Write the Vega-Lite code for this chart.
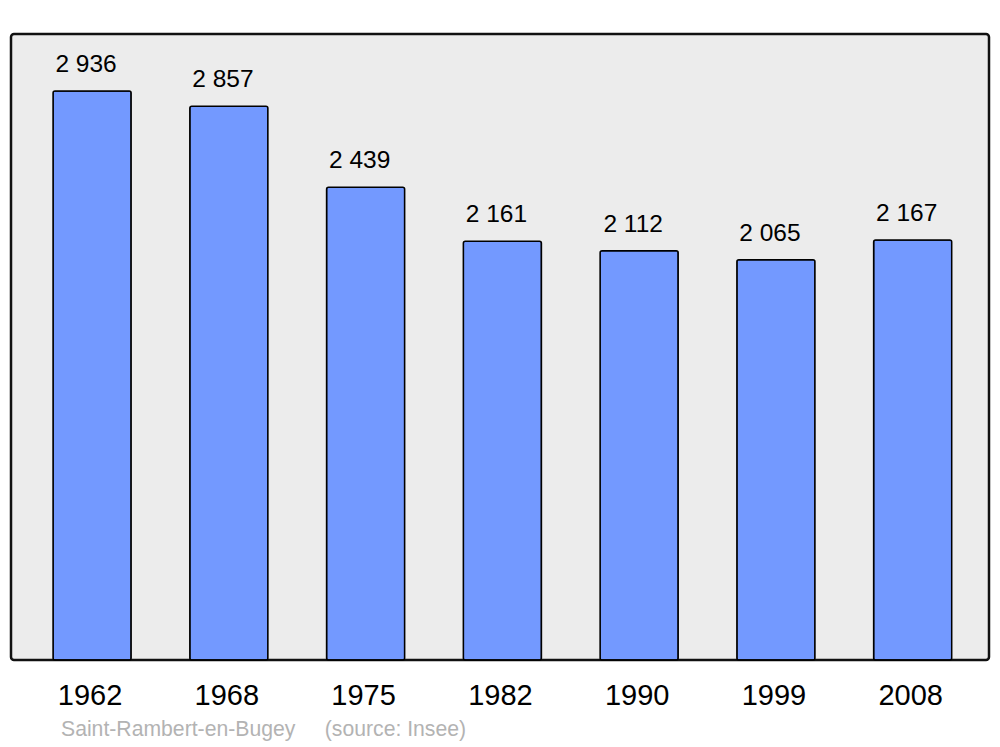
{
  "$schema": "https://vega.github.io/schema/vega-lite/v6.json",
  "width": 978,
  "height": 626,
  "autosize": {"type": "none"},
  "padding": {"left": 11, "top": 34, "right": 11, "bottom": 87},
  "background": "white",
  "config": {
    "view": {"fill": "#ececec", "stroke": "#111111", "strokeWidth": 2.5, "cornerRadius": 3},
    "font": "Liberation Sans"
  },
  "title": {
    "text": "Saint-Rambert-en-Bugey\u00a0\u00a0\u00a0\u00a0 (source: Insee)",
    "orient": "bottom",
    "anchor": "start",
    "dx": 50,
    "fontSize": 21.2,
    "fontWeight": "normal",
    "color": "#b3b3b3",
    "font": "Liberation Sans",
    "offset": 26,
    "baseline": "alphabetic"
  },
  "data": {
    "values": [
      {"year": "1962", "population": 2936, "label": "2 936"},
      {"year": "1968", "population": 2857, "label": "2 857"},
      {"year": "1975", "population": 2439, "label": "2 439"},
      {"year": "1982", "population": 2161, "label": "2 161"},
      {"year": "1990", "population": 2112, "label": "2 112"},
      {"year": "1999", "population": 2065, "label": "2 065"},
      {"year": "2008", "population": 2167, "label": "2 167"}
    ]
  },
  "encoding": {
    "x": {
      "field": "year",
      "type": "ordinal",
      "scale": {"paddingInner": 0.429, "paddingOuter": 0.29, "align": 0.53},
      "axis": {
        "title": null,
        "domain": false,
        "ticks": false,
        "tickSize": 0,
        "labelFontSize": 29,
        "labelColor": "#000000",
        "labelBaseline": "alphabetic",
        "labelPadding": 44,
        "labelOffset": -2,
        "labelAngle": 0,
        "labelFont": "Liberation Sans"
      }
    },
    "y": {
      "field": "population",
      "type": "quantitative",
      "scale": {"domain": [0, 3230], "nice": false, "zero": true},
      "axis": null
    }
  },
  "layer": [
    {"mark": {"type": "bar", "fill": "#7399ff", "stroke": "#000000", "strokeWidth": 1.5, "cornerRadius": 2}},
    {
      "mark": {"type": "text", "dy": -19, "dx": -6, "baseline": "alphabetic", "fontSize": 24.5, "color": "#000000", "font": "Liberation Sans"},
      "encoding": {"text": {"field": "label"}}
    }
  ]
}
